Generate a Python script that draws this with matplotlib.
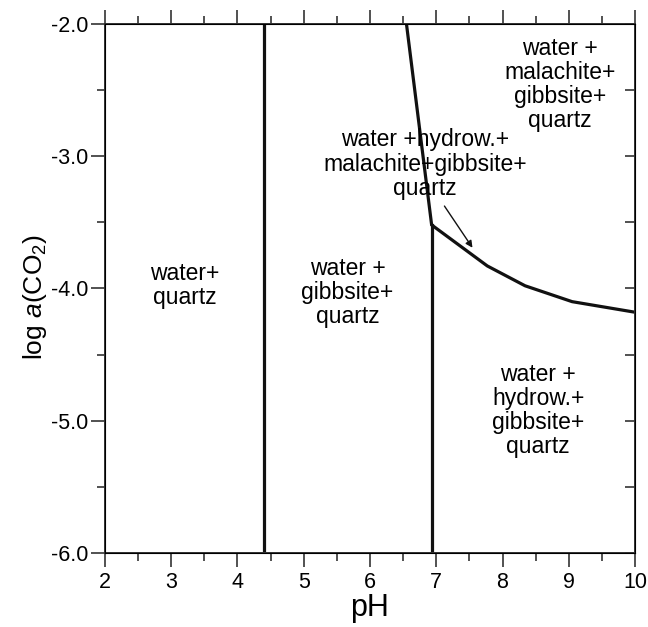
import matplotlib.pyplot as plt
from matplotlib.ticker import MultipleLocator, FormatStrFormatter

plt.rcParams['font.family'] = ['Liberation Sans', 'DejaVu Sans']
plt.rcParams['mathtext.fontset'] = 'custom'
plt.rcParams['mathtext.rm'] = 'Liberation Sans'
plt.rcParams['mathtext.it'] = 'Liberation Sans:italic'

# phase boundaries
gib_x = [4.4, 4.4]
gib_y = [-6.0, -2.0]
hyd_x = [6.93, 6.93]
hyd_y = [-6.0, -3.52]
mal_x = [6.55, 6.93, 7.77, 8.34, 9.05, 10.0]
mal_y = [-2.0, -3.52, -3.83, -3.98, -4.10, -4.18]

fig = plt.figure(figsize=(6.48, 6.27), dpi=100)
ax = fig.add_axes([0.162, 0.118, 0.818, 0.844])

ax.plot(gib_x, gib_y, color='#111111', lw=2.3)
ax.plot(hyd_x, hyd_y, color='#111111', lw=2.3)
ax.plot(mal_x, mal_y, color='#111111', lw=2.3, solid_joinstyle='miter')

fs = 16.5
ls = 1.06
ax.text(3.21, -3.98, 'water+\nquartz', ha='center', va='center', fontsize=fs, linespacing=ls)
ax.text(5.66, -4.03, 'water +\ngibbsite+\nquartz', ha='center', va='center', fontsize=fs, linespacing=ls)
ax.text(6.83, -3.06, 'water +hydrow.+\nmalachite+gibbsite+\nquartz', ha='center', va='center',
        fontsize=fs, linespacing=ls)
ax.text(8.87, -2.46, 'water +\nmalachite+\ngibbsite+\nquartz', ha='center', va='center',
        fontsize=fs, linespacing=ls)
ax.text(8.54, -4.92, 'water +\nhydrow.+\ngibbsite+\nquartz', ha='center', va='center',
        fontsize=fs, linespacing=ls)
ax.annotate('', xy=(7.57, -3.71), xytext=(7.10, -3.36),
            arrowprops=dict(arrowstyle='-|>', color='#111111', lw=1.0, mutation_scale=10))

ax.set_xlim(2, 10)
ax.set_ylim(-6, -2)
ax.xaxis.set_major_locator(MultipleLocator(1))
ax.xaxis.set_minor_locator(MultipleLocator(0.5))
ax.yaxis.set_major_locator(MultipleLocator(1))
ax.yaxis.set_minor_locator(MultipleLocator(0.5))
ax.yaxis.set_major_formatter(FormatStrFormatter('%.1f'))

for s in ax.spines.values():
    s.set_linewidth(1.4)
    s.set_color('#333333')
ax.tick_params(which='both', direction='out', top=True, right=False, width=1.2,
               color='#333333', labelsize=15.5)
ax.tick_params(which='major', length=10, pad=2)
ax.tick_params(axis='x', which='major', pad=4)
ax.tick_params(which='minor', length=6)

# inward ticks on the right side
ax2 = ax.twinx()
ax2.set_ylim(-6, -2)
ax2.yaxis.set_major_locator(MultipleLocator(0.5))
ax2.tick_params(direction='in', length=7, width=1.2, color='#333333', labelright=False)

ax.set_xlabel('pH', fontsize=22, labelpad=0)
ax.set_ylabel('log $\\mathit{a}$(CO$_2$)', fontsize=19)
ax.yaxis.set_label_coords(-0.105, 0.484)

fig.savefig('out.png', dpi=100)
